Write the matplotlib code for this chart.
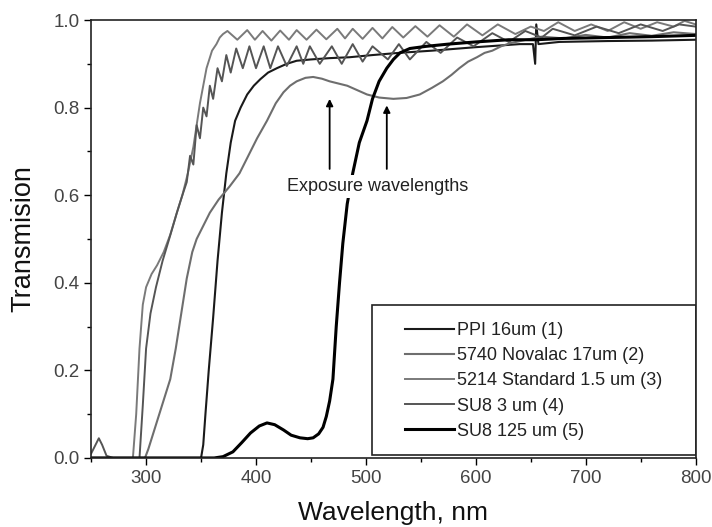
import matplotlib
matplotlib.use("Agg")
import matplotlib.pyplot as plt
from matplotlib.patches import Rectangle
from matplotlib.ticker import MultipleLocator

plt.rcParams['font.family'] = ['Liberation Sans', 'DejaVu Sans']

# ---- data ----
wl_ppi = [250, 350, 352, 354, 357, 361, 365, 369, 373, 377, 381, 386, 392, 398, 404, 411, 419, 428,
          437, 450, 467, 485, 506, 530, 560, 600, 640, 652, 654, 655, 657, 676, 720, 760, 800]
t_ppi = [0, 0, 0.03, 0.1, 0.2, 0.32, 0.45, 0.56, 0.65, 0.72, 0.77, 0.8, 0.83, 0.85, 0.865, 0.88, 0.89, 0.9,
         0.907, 0.91, 0.913, 0.915, 0.92, 0.925, 0.93, 0.938, 0.945, 0.945, 0.90, 0.99, 0.945, 0.95, 0.952, 0.953, 0.955]

wl_nov = [250, 299, 302, 307, 312, 317, 322, 327, 332, 337, 342, 346, 352, 358, 366, 376, 385, 393, 401,
          410, 418, 425, 431, 437, 445, 452, 460, 467, 475, 483, 492, 501, 512, 525, 537, 549, 560, 570,
          578, 585, 593, 601, 608, 615, 623, 631, 646, 660, 680, 700, 720, 740, 760, 780, 800]
t_nov = [0, 0, 0.02, 0.06, 0.1, 0.14, 0.18, 0.25, 0.33, 0.41, 0.47, 0.5, 0.53, 0.56, 0.59, 0.62, 0.65, 0.69, 0.73,
         0.77, 0.81, 0.835, 0.85, 0.86, 0.868, 0.87, 0.866, 0.86, 0.855, 0.85, 0.84, 0.83, 0.823, 0.82, 0.822, 0.83,
         0.845, 0.86, 0.875, 0.89, 0.905, 0.915, 0.925, 0.93, 0.94, 0.947, 0.955, 0.962, 0.958, 0.966, 0.96, 0.97,
         0.964, 0.972, 0.968]

wl_std = [250, 288, 291, 294, 297, 300, 305, 310, 316, 322, 328, 333, 338, 343, 349, 355, 360, 364, 367, 370,
          374, 383, 392, 399, 406, 414, 422, 430, 437, 446, 455, 464, 474, 481, 488, 497, 506, 515, 524, 534,
          545, 556, 567, 580, 592, 606, 620, 636, 650, 662, 675, 690, 705, 720, 735, 750, 765, 780, 790, 800]
t_std = [0, 0, 0.1, 0.25, 0.35, 0.39, 0.42, 0.44, 0.47, 0.51, 0.56, 0.6, 0.65, 0.71, 0.81, 0.89, 0.93, 0.945,
         0.96, 0.968, 0.975, 0.955, 0.977, 0.955, 0.975, 0.953, 0.976, 0.955, 0.977, 0.955, 0.978, 0.956, 0.98,
         0.958, 0.98, 0.957, 0.982, 0.958, 0.984, 0.96, 0.986, 0.962, 0.988, 0.962, 0.99, 0.965, 0.99, 0.968,
         0.985, 0.975, 0.995, 0.975, 0.99, 0.975, 0.995, 0.98, 0.995, 0.985, 0.998, 0.99]

wl_su3 = [250, 254, 257, 260, 264, 270, 294, 297, 300, 304, 309, 315, 321, 328, 333, 337, 340, 343, 346, 349,
          352, 355, 358, 361, 365, 369, 373, 377, 382, 388, 394, 400, 407, 413, 420, 428, 437, 443, 449, 458,
          469, 478, 488, 497, 506, 520, 530, 540, 555, 568, 583, 598, 615, 630, 645, 660, 670, 690, 710, 730,
          750, 770, 785, 800]
t_su3 = [0.01, 0.03, 0.045, 0.03, 0.005, 0, 0, 0.12, 0.25, 0.33, 0.39, 0.45, 0.5, 0.56, 0.6, 0.63, 0.69, 0.67,
         0.76, 0.73, 0.8, 0.78, 0.85, 0.82, 0.89, 0.86, 0.92, 0.88, 0.935, 0.89, 0.94, 0.89, 0.94, 0.89, 0.94,
         0.895, 0.94, 0.9, 0.94, 0.9, 0.94, 0.9, 0.945, 0.905, 0.94, 0.91, 0.945, 0.91, 0.95, 0.925, 0.96, 0.94,
         0.97, 0.95, 0.975, 0.96, 0.98, 0.965, 0.985, 0.97, 0.99, 0.975, 0.99, 0.985]

wl_su125 = [250, 362, 370, 379, 387, 395, 403, 410, 417, 425, 432, 440, 447, 452, 457, 461, 464, 467, 470,
            473, 476, 479, 483, 488, 494, 501, 506, 512, 519, 525, 531, 540, 555, 575, 600, 630, 655, 680,
            720, 760, 800]
t_su125 = [0, 0, 0.003, 0.014, 0.035, 0.057, 0.073, 0.08, 0.076, 0.064, 0.052, 0.046, 0.044, 0.046, 0.055,
           0.07, 0.095, 0.13, 0.18, 0.3, 0.4, 0.49, 0.58, 0.65, 0.72, 0.77, 0.82, 0.86, 0.89, 0.91, 0.925,
           0.935, 0.94, 0.945, 0.95, 0.955, 0.955, 0.958, 0.96, 0.962, 0.965]

labels = ["PPI 16um (1)", "5740 Novalac 17um (2)", "5214 Standard 1.5 um (3)", "SU8 3 um (4)", "SU8 125 um (5)"]
arrow_wl = [467, 519]
arrow_tip = [0.82, 0.805]
arrow_base = 0.66
note_text = "Exposure wavelengths"

fig = plt.figure(figsize=(7.12, 5.27), dpi=100)
ax = fig.add_axes([0.128, 0.131, 0.849, 0.831])

series = [(wl_ppi, t_ppi, '#1a1a1a', 1.5),
          (wl_nov, t_nov, '#6e6e6e', 1.5),
          (wl_std, t_std, '#7a7a7a', 1.4),
          (wl_su3, t_su3, '#555555', 1.4),
          (wl_su125, t_su125, '#000000', 2.2)]
handles = []
for (x, y, c, lw), lab in zip(series, labels):
    h, = ax.plot(x, y, color=c, lw=lw, label=lab)
    handles.append(h)

for w, tip in zip(arrow_wl, arrow_tip):
    ax.annotate('', xy=(w, tip), xytext=(w, arrow_base),
                arrowprops=dict(arrowstyle='-|>', color='black', lw=1.3, mutation_scale=10,
                                shrinkA=0, shrinkB=0))
ax.text(428, 0.62, note_text, fontsize=13, ha='left', va='center', color='#222222', zorder=6,
        bbox=dict(boxstyle='square,pad=0.15', facecolor='white', edgecolor='none'))

ax.set_xlim(250, 800)
ax.set_ylim(0, 1.0)
ax.xaxis.set_major_locator(MultipleLocator(100))
ax.xaxis.set_minor_locator(MultipleLocator(50))
ax.yaxis.set_major_locator(MultipleLocator(0.2))
ax.yaxis.set_minor_locator(MultipleLocator(0.1))
ax.yaxis.set_major_formatter(matplotlib.ticker.FormatStrFormatter('%.1f'))
ax.tick_params(which='major', direction='out', length=5, width=1, labelsize=13.5,
               labelcolor='#444444', top=False, right=False)
ax.tick_params(which='minor', direction='out', length=3, width=1, top=False, right=False)
for s in ax.spines.values():
    s.set_linewidth(1.2)
    s.set_color('#222222')

ax.set_xlabel("Wavelength, nm", fontsize=19, color='#111111')
ax.set_ylabel("Transmision", fontsize=19.5, color='#111111')
ax.xaxis.set_label_coords(0.5, -0.098)
ax.yaxis.set_label_coords(-0.09, 0.5)

rect = Rectangle((0.464, 0.007), 0.536, 0.342, transform=ax.transAxes, fill=False,
                 edgecolor='#222222', lw=1.2, zorder=5)
ax.add_patch(rect)
leg = ax.legend(handles=handles, loc='center', bbox_to_anchor=(0.732, 0.176), frameon=False,
                fontsize=13, handlelength=2.7, handletextpad=0.15, labelspacing=0.45)
for t in leg.get_texts():
    t.set_color('#222222')

fig.savefig("out.png", dpi=100, facecolor='white')
